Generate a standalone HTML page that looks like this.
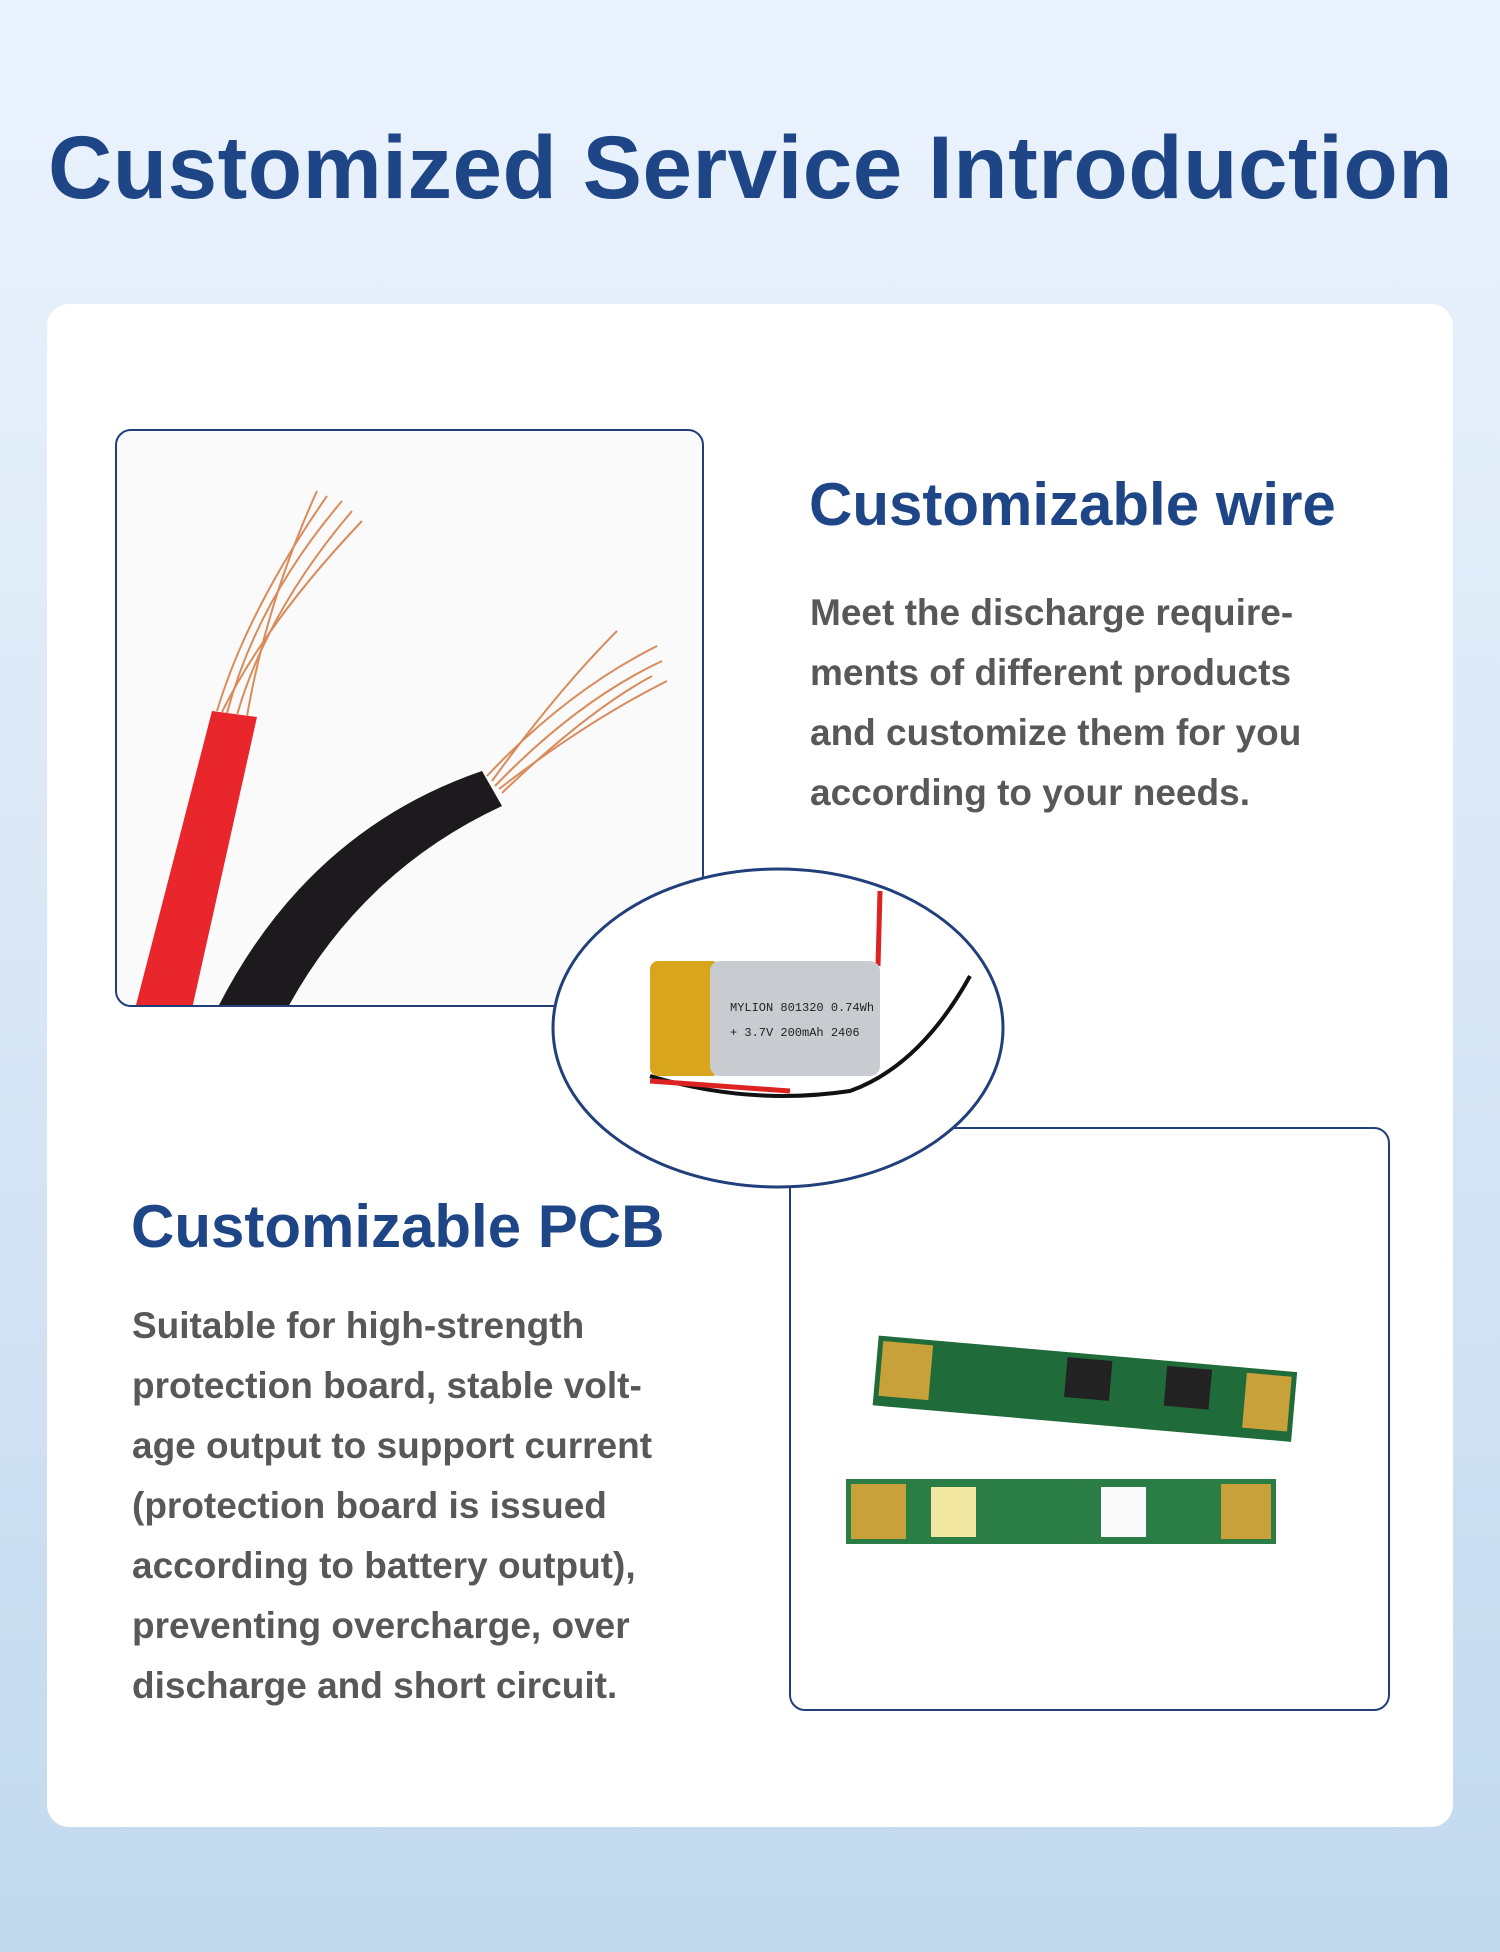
<!DOCTYPE html>
<html><head><meta charset="utf-8"><style>
*{margin:0;padding:0;box-sizing:border-box}
body{width:1500px;height:1952px;overflow:hidden;background:linear-gradient(180deg,#eaf3fd 0%,#dde9f7 40%,#c2d9ee 100%);font-family:"Liberation Sans",Arial,sans-serif;position:relative}
h1{position:absolute;left:48px;top:116px;width:1410px;font-size:89px;font-weight:bold;color:#1e4586;white-space:nowrap;letter-spacing:0.5px}
.card{position:absolute;left:47px;top:304px;width:1406px;height:1523px;background:#fff;border-radius:22px}
.box{position:absolute;border:2.5px solid #213f7a;border-radius:16px;background:#fff;overflow:hidden}
h2{position:absolute;font-size:60px;font-weight:bold;color:#1e4586;white-space:nowrap}
.p{position:absolute;font-size:37px;font-weight:bold;color:#585858;line-height:60px}
</style></head><body>
<h1>Customized Service Introduction</h1>
<div class="card"></div>
<div class="box" style="left:115px;top:429px;width:589px;height:578px;background:#fafafa">
<svg width="589" height="578" viewBox="0 0 589 578">
<path d="M18 578 L95 280 L140 286 L75 578 Z" fill="#e8262b"/>
<g stroke="#d98b5a" stroke-width="2" fill="none">
<path d="M100 280 Q130 180 210 65"/><path d="M110 282 Q140 170 225 70"/><path d="M120 284 Q150 180 235 80"/><path d="M130 285 Q150 170 200 60"/><path d="M105 281 Q150 190 245 90"/>
<path d="M370 345 Q450 260 540 215"/><path d="M378 355 Q460 270 545 230"/><path d="M385 362 Q470 280 535 245"/><path d="M375 350 Q440 260 500 200"/><path d="M382 358 Q470 290 550 250"/>
</g>
<path d="M100 578 Q190 400 365 340 L385 375 Q245 440 170 578 Z" fill="#1c1a1c"/>
</svg></div>
<div class="box" style="left:789px;top:1127px;width:601px;height:584px">
<svg width="601" height="584" viewBox="0 0 601 584">
<g transform="rotate(5 300 190)"><rect x="90" y="225" width="420" height="70" fill="#1f6b3a"/><rect x="95" y="230" width="50" height="55" fill="#c9a13a"/><rect x="460" y="230" width="45" height="55" fill="#c9a13a"/><rect x="280" y="230" width="45" height="40" fill="#222"/><rect x="380" y="230" width="45" height="40" fill="#222"/></g>
<rect x="55" y="350" width="430" height="65" fill="#2a7d44"/><rect x="60" y="355" width="55" height="55" fill="#c9a13a"/><rect x="140" y="358" width="45" height="50" fill="#f0e6a0"/><rect x="310" y="358" width="45" height="50" fill="#fafafa"/><rect x="430" y="355" width="50" height="55" fill="#c9a13a"/>
</svg></div>
<svg style="position:absolute;left:550px;top:866px" width="456" height="324" viewBox="0 0 456 324">
<ellipse cx="228" cy="162" rx="225" ry="159" fill="#fff" stroke="#213f7a" stroke-width="3"/>
<path d="M330 25 L328 100" stroke="#d22" stroke-width="5"/>
<path d="M420 110 Q370 200 300 225 Q200 240 100 210" stroke="#111" stroke-width="4" fill="none"/>
<path d="M100 215 L240 225" stroke="#d22" stroke-width="5"/>
<rect x="100" y="95" width="70" height="115" rx="8" fill="#d9a51c"/>
<rect x="160" y="95" width="170" height="115" rx="10" fill="#c8cbd0"/>
<text x="180" y="145" font-family="Liberation Mono" font-size="12" fill="#222">MYLION 801320 0.74Wh</text>
<text x="180" y="170" font-family="Liberation Mono" font-size="12" fill="#222">+ 3.7V  200mAh  2406</text>
</svg>
<h2 style="left:809px;top:470px">Customizable wire</h2>
<div class="p" style="left:810px;top:583px">Meet the discharge require-<br>ments of different products<br>and customize them for you<br>according to your needs.</div>
<h2 style="left:131px;top:1192px">Customizable PCB</h2>
<div class="p" style="left:132px;top:1296px">Suitable for high-strength<br>protection board, stable volt-<br>age output to support current<br>(protection board is issued<br>according to battery output),<br>preventing overcharge, over<br>discharge and short circuit.</div>
</body></html>
